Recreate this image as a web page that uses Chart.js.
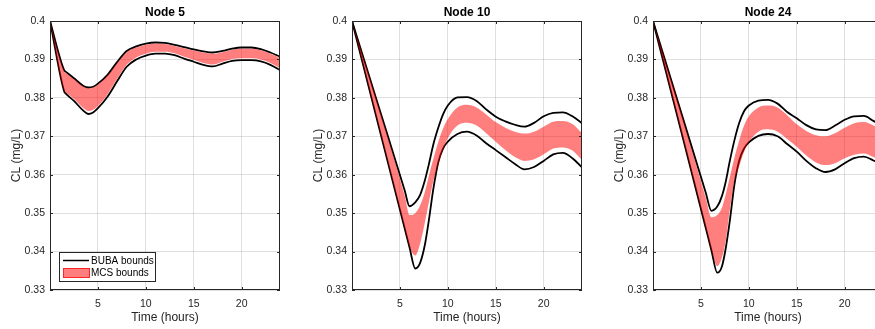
<!DOCTYPE html>
<html>
<head>
<meta charset="utf-8">
<script src="https://cdn.jsdelivr.net/npm/chart.js@4.4.1/dist/chart.umd.min.js"></script>
<style>
  html, body { margin: 0; padding: 0; background: #fff; overflow: hidden; }
  #wrap { position: relative; width: 875px; height: 329px; overflow: hidden; }
  canvas { position: absolute; top: 0; }
</style>
</head>
<body>
<div id="wrap">
  <canvas id="node5" width="300" height="329" style="left:0px"></canvas>
  <canvas id="node10" width="300" height="329" style="left:302px"></canvas>
  <canvas id="node24" width="300" height="329" style="left:603px"></canvas>
</div>
<script>
// time axis (hours) and chlorine bounds for each node
var hours5 = [0, 1.5, 1.6, 2.5, 3.5, 4, 4.5, 5, 6, 7, 8, 9, 10, 11, 12, 13, 14, 15, 16, 17, 18, 19, 20, 21, 22, 23, 24];
var node5BubaUp = [0.4, 0.3871, 0.3869, 0.3851, 0.3831, 0.3827, 0.3829, 0.3837, 0.3860, 0.3893, 0.3922, 0.3934, 0.3941, 0.3944, 0.3943, 0.3938, 0.3932, 0.3926, 0.3921, 0.3918, 0.3922, 0.3928, 0.3931, 0.3931, 0.3927, 0.3918, 0.3907];
var node5BubaLo = [0.4, 0.3815, 0.3812, 0.3792, 0.3766, 0.3758, 0.3762, 0.3773, 0.3803, 0.3843, 0.3881, 0.3900, 0.3910, 0.3915, 0.3915, 0.3911, 0.3902, 0.3894, 0.3886, 0.3882, 0.3889, 0.3896, 0.3898, 0.3898, 0.3895, 0.3886, 0.3872];
var node5McsUp = [0.4, 0.3868, 0.3866, 0.3849, 0.3829, 0.3825, 0.3827, 0.3835, 0.3858, 0.3891, 0.3919, 0.3931, 0.3938, 0.3941, 0.3940, 0.3935, 0.3929, 0.3923, 0.3918, 0.3915, 0.3919, 0.3925, 0.3928, 0.3928, 0.3924, 0.3915, 0.3904];
var node5McsLo = [0.4, 0.3818, 0.3815, 0.3797, 0.3773, 0.3766, 0.3769, 0.3779, 0.3809, 0.3849, 0.3886, 0.3905, 0.3915, 0.3920, 0.3920, 0.3916, 0.3907, 0.3899, 0.3891, 0.3887, 0.3894, 0.3901, 0.3903, 0.3903, 0.3900, 0.3891, 0.3877];

var hours10 = [0, 3, 5.5, 6, 6.6, 7.1, 7.6, 8, 8.5, 9, 9.5, 10, 11, 12, 13, 14, 15, 16, 17, 18, 19, 20, 21, 22, 23, 24];
var node10BubaUp = [0.4, 0.3760, 0.3559, 0.3518, 0.3528, 0.3547, 0.3585, 0.3625, 0.3680, 0.3722, 0.3757, 0.3780, 0.3801, 0.3802, 0.3792, 0.3770, 0.3751, 0.3739, 0.3730, 0.3725, 0.3735, 0.3752, 0.3761, 0.3762, 0.3752, 0.3734];
var node10BubaLo = [0.4, 0.3705, 0.3460, 0.3411, 0.3356, 0.3370, 0.3417, 0.3478, 0.3565, 0.3632, 0.3668, 0.3686, 0.3706, 0.3712, 0.3702, 0.3682, 0.3664, 0.3646, 0.3628, 0.3614, 0.3620, 0.3636, 0.3653, 0.3657, 0.3643, 0.3619];
var node10McsUp = [0.4, 0.3758, 0.3545, 0.3495, 0.3500, 0.3520, 0.3555, 0.3595, 0.3642, 0.3685, 0.3720, 0.3745, 0.3775, 0.3782, 0.3775, 0.3757, 0.3737, 0.3722, 0.3712, 0.3707, 0.3712, 0.3725, 0.3738, 0.3740, 0.3732, 0.3708];
var node10McsLo = [0.4, 0.3707, 0.3462, 0.3414, 0.3390, 0.3420, 0.3475, 0.3525, 0.3585, 0.3628, 0.3665, 0.3695, 0.3728, 0.3735, 0.3728, 0.3708, 0.3686, 0.3664, 0.3646, 0.3636, 0.3640, 0.3653, 0.3668, 0.3671, 0.3663, 0.3638];

var hours24 = [0, 3, 5.5, 6.1, 6.7, 7.2, 7.6, 8, 8.5, 9, 9.5, 10, 11, 12, 13, 14, 15, 16, 17, 18, 19, 20, 21, 22, 23, 24];
var node24BubaUp = [0.4, 0.3757, 0.3554, 0.3506, 0.3517, 0.3545, 0.3583, 0.3634, 0.3690, 0.3735, 0.3765, 0.3780, 0.3793, 0.3795, 0.3785, 0.3763, 0.3747, 0.3729, 0.3718, 0.3716, 0.3728, 0.3743, 0.3752, 0.3753, 0.3740, 0.3726];
var node24BubaLo = [0.4, 0.3707, 0.3462, 0.3403, 0.3345, 0.3362, 0.3410, 0.3477, 0.3575, 0.3637, 0.3668, 0.3684, 0.3701, 0.3706, 0.3700, 0.3680, 0.3660, 0.3636, 0.3617, 0.3607, 0.3614, 0.3630, 0.3643, 0.3647, 0.3637, 0.3625];
var node24McsUp = [0.4, 0.3755, 0.3540, 0.3489, 0.3495, 0.3515, 0.3550, 0.3592, 0.3645, 0.3690, 0.3728, 0.3752, 0.3775, 0.3780, 0.3775, 0.3755, 0.3731, 0.3714, 0.3703, 0.3700, 0.3708, 0.3722, 0.3734, 0.3737, 0.3728, 0.3715];
var node24McsLo = [0.4, 0.3708, 0.3464, 0.3405, 0.3362, 0.3385, 0.3430, 0.3505, 0.3585, 0.3622, 0.3660, 0.3685, 0.3712, 0.3718, 0.3712, 0.3693, 0.3673, 0.3650, 0.3632, 0.3625, 0.3630, 0.3643, 0.3652, 0.3655, 0.3646, 0.3636];

var yTicks = [0.33, 0.34, 0.35, 0.36, 0.37, 0.38, 0.39, 0.4];
var xTicks = [5, 10, 15, 20];

var FONT = "'Liberation Sans', Arial, Helvetica, sans-serif";
var AXIS_COLOR = '#262626';
var FILL_RED = 'rgba(255, 0, 0, 0.5)';

function toXY(hours, vals) {
    return vals.map(function (v, i) { return { x: hours[i], y: v }; });
}

// box, inward ticks, title, axis labels and optional legend
var matlabAxes = {
    id: 'matlabAxes',
    afterDraw: function (chart, args, opts) {
        var ctx = chart.ctx;
        var a = chart.chartArea;
        var xs = chart.scales.x, ys = chart.scales.y;
        ctx.save();
        ctx.strokeStyle = AXIS_COLOR;
        ctx.lineWidth = 1;
        ctx.strokeRect(Math.round(a.left) + 0.5, Math.round(a.top) + 0.5,
                       Math.round(a.right - a.left) - 1, Math.round(a.bottom - a.top) - 1);
        ctx.beginPath();
        xTicks.forEach(function (t) {
            var px = Math.round(xs.getPixelForValue(t)) + 0.5;
            ctx.moveTo(px, a.bottom); ctx.lineTo(px, a.bottom - 3);
            ctx.moveTo(px, a.top); ctx.lineTo(px, a.top + 3);
        });
        yTicks.forEach(function (t) {
            var py = Math.round(ys.getPixelForValue(t)) + 0.5;
            ctx.moveTo(a.left, py); ctx.lineTo(a.left + 3, py);
            ctx.moveTo(a.right, py); ctx.lineTo(a.right - 3, py);
        });
        ctx.stroke();

        var cx = (a.left + a.right) / 2;
        ctx.fillStyle = '#000';
        ctx.textAlign = 'center';
        ctx.textBaseline = 'middle';
        ctx.font = 'bold 12px ' + FONT;
        ctx.fillText(opts.title, cx, 13);

        ctx.fillStyle = AXIS_COLOR;
        ctx.font = '12px ' + FONT;
        ctx.fillText('Time (hours)', cx, 318);

        ctx.save();
        ctx.translate(17, (a.top + a.bottom) / 2);
        ctx.rotate(-Math.PI / 2);
        ctx.fillText('CL (mg/L)', 0, 0);
        ctx.restore();

        if (opts.legend) {
            ctx.fillStyle = '#fff';
            ctx.fillRect(59.5, 252.5, 96, 29);
            ctx.strokeStyle = AXIS_COLOR;
            ctx.strokeRect(59.5, 252.5, 96, 29);
            ctx.beginPath();
            ctx.strokeStyle = '#000';
            ctx.lineWidth = 1.5;
            ctx.moveTo(63, 260.5); ctx.lineTo(89, 260.5);
            ctx.stroke();
            ctx.fillStyle = FILL_RED;
            ctx.fillRect(63, 268, 27, 10);
            ctx.strokeStyle = 'rgba(255,0,0,0.7)';
            ctx.lineWidth = 1;
            ctx.strokeRect(63.5, 268.5, 26, 9);
            ctx.fillStyle = '#000';
            ctx.textAlign = 'left';
            ctx.font = '10px ' + FONT;
            ctx.fillText('BUBA bounds', 91, 261);
            ctx.fillText('MCS bounds', 91, 273.5);
        }
        ctx.restore();
    }
};

function makeChart(id, title, hours, bubaUp, bubaLo, mcsUp, mcsLo, legend) {
    var line = {
        pointRadius: 0,
        cubicInterpolationMode: 'monotone',
        fill: false
    };
    return new Chart(document.getElementById(id), {
        type: 'line',
        data: {
            datasets: [
                Object.assign({}, line, {
                    label: 'MCS bounds',
                    data: toXY(hours, mcsUp),
                    borderWidth: 0,
                    borderColor: FILL_RED,
                    backgroundColor: FILL_RED,
                    fill: '+1'
                }),
                Object.assign({}, line, {
                    label: 'MCS lower',
                    data: toXY(hours, mcsLo),
                    borderWidth: 0,
                    borderColor: FILL_RED
                }),
                Object.assign({}, line, {
                    label: 'BUBA bounds',
                    data: toXY(hours, bubaUp),
                    borderWidth: 1.8,
                    borderColor: '#000'
                }),
                Object.assign({}, line, {
                    label: 'BUBA lower',
                    data: toXY(hours, bubaLo),
                    borderWidth: 1.8,
                    borderColor: '#000'
                })
            ]
        },
        options: {
            responsive: false,
            animation: false,
            devicePixelRatio: 1,
            layout: { padding: { top: 21, right: 20, left: 0, bottom: 0 } },
            plugins: {
                legend: { display: false },
                tooltip: { enabled: false },
                matlabAxes: { title: title, legend: legend }
            },
            scales: {
                x: {
                    type: 'linear',
                    min: 0,
                    max: 24,
                    afterFit: function (s) { s.height = 39; },
                    grid: { color: 'rgba(38,38,38,0.15)', drawTicks: false },
                    border: { display: false },
                    ticks: {
                        stepSize: 5,
                        includeBounds: false,
                        padding: 8,
                        color: AXIS_COLOR,
                        font: { family: FONT, size: 10.5 },
                        maxRotation: 0,
                        callback: function (v) { return v === 0 ? '' : v; }
                    }
                },
                y: {
                    min: 0.33,
                    max: 0.4,
                    afterFit: function (s) { s.width = 50; },
                    grid: { color: 'rgba(38,38,38,0.15)', drawTicks: false },
                    border: { display: false },
                    ticks: {
                        stepSize: 0.01,
                        padding: 5,
                        color: AXIS_COLOR,
                        font: { family: FONT, size: 10.5 },
                        callback: function (v) { return parseFloat(v.toFixed(2)).toString(); }
                    }
                }
            }
        },
        plugins: [matlabAxes]
    });
}

makeChart('node5', 'Node 5', hours5, node5BubaUp, node5BubaLo, node5McsUp, node5McsLo, true);
makeChart('node10', 'Node 10', hours10, node10BubaUp, node10BubaLo, node10McsUp, node10McsLo, false);
makeChart('node24', 'Node 24', hours24, node24BubaUp, node24BubaLo, node24McsUp, node24McsLo, false);
</script>
</body>
</html>
